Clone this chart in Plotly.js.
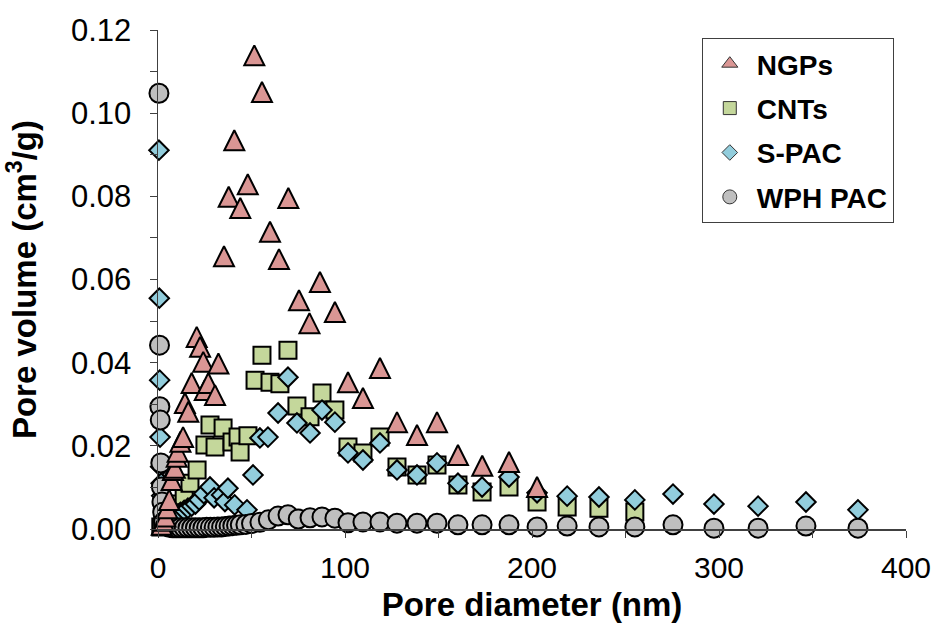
<!DOCTYPE html>
<html>
<head>
<meta charset="utf-8">
<script src="https://cdn.plot.ly/plotly-3.0.1.min.js"></script>
<style>html,body{margin:0;padding:0;background:#fff;}#chart{width:944px;height:630px;}</style>
</head>
<body>
<div id="chart"></div>
<script>
// Series names
var seriesNames = ["NGPs", "CNTs", "S-PAC", "WPH PAC"];

// NGPs (triangles)
var ngpX = [2, 3, 4, 5, 6, 7.3, 8, 9, 10, 10.5, 12, 13.4, 14.4, 16.2, 18, 20.7, 22.5, 24.2, 25, 26.9, 30.5, 32.3, 35.3, 37.8, 40.8, 44, 48, 51.5, 55.6, 59.9, 64.7, 69.7, 75.4, 81, 86.6, 94.6, 101.6, 109.6, 118.7, 127.8, 138.5, 149.2, 160.4, 173.4, 187.7, 202.7];
var ngpY = [0.001, 0.002, 0.003, 0.005, 0.007, 0.0118, 0.0142, 0.0147, 0.0174, 0.0186, 0.021, 0.0221, 0.0303, 0.0282, 0.0351, 0.0462, 0.0438, 0.0402, 0.0334, 0.0351, 0.0322, 0.0398, 0.0656, 0.0799, 0.0935, 0.0772, 0.0829, 0.1139, 0.1051, 0.0715, 0.0649, 0.0796, 0.055, 0.0495, 0.0594, 0.0522, 0.0353, 0.0315, 0.0387, 0.0257, 0.0226, 0.0257, 0.0178, 0.0152, 0.0161, 0.0101];

// CNTs (squares)
var cntX = [1.5, 2.5, 3.5, 4.5, 5.5, 7, 8.5, 10, 12, 14, 17.1, 20.9, 25.1, 27.8, 30.5, 34.8, 39.6, 42.8, 43.9, 48.1, 51.9, 55.6, 59.9, 65.2, 69.5, 74.3, 81.3, 87.7, 94.6, 101.6, 109.6, 118.7, 127.8, 138.5, 149.2, 160.4, 173.3, 187.7, 202.7, 218.8, 235.8, 255];
var cntY = [0.0005, 0.001, 0.0015, 0.002, 0.0025, 0.003, 0.004, 0.005, 0.006, 0.008, 0.011, 0.0142, 0.0202, 0.025, 0.0197, 0.0243, 0.0209, 0.0221, 0.0185, 0.0224, 0.0358, 0.0418, 0.0353, 0.0349, 0.043, 0.0296, 0.027, 0.0327, 0.0286, 0.0197, 0.0183, 0.0221, 0.0149, 0.013, 0.0154, 0.0106, 0.0089, 0.0101, 0.0065, 0.0053, 0.005, 0.0041];

// S-PAC (diamonds)
var spacX = [0.5, 0.7, 0.9, 1.1, 1.4, 1.7, 2.0, 2.5, 3, 4, 5, 6.5, 8, 10, 12, 14, 16, 18, 20, 22, 24.5, 27.8, 30, 34, 35.8, 37.4, 41, 47.6, 50.8, 54.5, 58.8, 64.2, 69.5, 74.3, 81.3, 87.7, 94.6, 101.6, 109.6, 118.7, 127.8, 138.5, 149.2, 160.4, 173.3, 187.7, 202.7, 218.8, 235.8, 255, 275.4, 297.3, 320.9, 346.5, 374.3];
var spacY = [0.0911, 0.0555, 0.0358, 0.0221, 0.015, 0.011, 0.008, 0.006, 0.005, 0.004, 0.0035, 0.003, 0.003, 0.0035, 0.004, 0.0045, 0.005, 0.0055, 0.006, 0.007, 0.0085, 0.0101, 0.0075, 0.0082, 0.0066, 0.0098, 0.0058, 0.0046, 0.013, 0.0219, 0.0221, 0.0279, 0.0365, 0.0255, 0.0231, 0.0286, 0.0257, 0.0183, 0.0166, 0.0207, 0.0142, 0.013, 0.0159, 0.011, 0.0101, 0.0125, 0.0087, 0.0079, 0.0077, 0.007, 0.0084, 0.006, 0.0055, 0.0065, 0.0046];

// WPH PAC (circles)
var wphX = [0.5, 0.8, 1.0, 1.2, 1.5, 1.8, 2.1, 2.5, 3, 4, 6, 8, 10, 12, 14, 16, 18, 20, 22, 24, 26, 28, 30, 32, 34, 36, 38, 40, 42, 44, 47, 50, 54.5, 59, 64.2, 69.5, 75, 81.3, 87.7, 94.6, 101.6, 109.6, 118.7, 127.8, 138.5, 149.2, 160.4, 173.3, 187.7, 202.7, 218.8, 235.8, 255, 275.4, 297.3, 320.9, 346.5, 374.3];
var wphY = [0.1048, 0.0442, 0.0294, 0.0262, 0.0159, 0.0101, 0.0065, 0.004, 0.0017, 0.0008, 0.0004, 0.0003, 0.0003, 0.0003, 0.0003, 0.0003, 0.0003, 0.0003, 0.0003, 0.0003, 0.0004, 0.0004, 0.0004, 0.0005, 0.0005, 0.0006, 0.0007, 0.0008, 0.0009, 0.001, 0.0011, 0.0013, 0.0016, 0.0022, 0.0031, 0.0034, 0.0024, 0.0027, 0.0029, 0.0026, 0.0015, 0.0017, 0.0017, 0.0014, 0.0014, 0.0014, 0.001, 0.001, 0.001, 0.0005, 0.0007, 0.0005, 0.0005, 0.001, 0.0002, 0.0002, 0.0007, 0.0002];

// axis tick labels
var xTickVals = [0, 100, 200, 300, 400];
var yTickVals = [0, 0.02, 0.04, 0.06, 0.08, 0.10, 0.12];

var colors = ["#DA9694", "#C4D79B", "#92CDDC", "#BFBFBF"];
var outline = {color: "#000000", width: 2};

// plot geometry (for centring the tip-anchored triangle symbol on its value)
var H = 630, M = {l: 158, r: 38, t: 30, b: 101};
var yMin = 0, yMax = 0.12;
var triSize = 20;
var plotH = H - M.t - M.b;
var triShift = (triSize / 2) / plotH * (yMax - yMin);

var traces = [
  {x: ngpX, y: ngpY, yaxis: "y2", type: "scatter", mode: "markers", cliponaxis: false, showlegend: false,
   marker: {symbol: "arrow-up", size: triSize, color: colors[0], line: outline}},
  {x: cntX, y: cntY, type: "scatter", mode: "markers", cliponaxis: false, showlegend: false,
   marker: {symbol: "square", size: 17, color: colors[1], line: outline}},
  {x: spacX, y: spacY, type: "scatter", mode: "markers", cliponaxis: false, showlegend: false,
   marker: {symbol: "diamond", size: 15, color: colors[2], line: outline}},
  {x: wphX, y: wphY, type: "scatter", mode: "markers", cliponaxis: false, showlegend: false,
   marker: {symbol: "circle", size: 19, color: colors[3], line: outline}}
];

// legend entries
var legSymbols = ["triangle-up", "square", "diamond", "circle"];
var legSizes = [14, 13, 12, 14];
for (var i = 0; i < 4; i++) {
  traces.push({x: [null], y: [null], type: "scatter", mode: "markers", name: seriesNames[i],
    legendgroup: "g" + i, showlegend: true,
    marker: {symbol: legSymbols[i], size: legSizes[i], color: colors[i], line: {color: "#333", width: 1}}});
}

var fontFam = "Liberation Sans, Arial, sans-serif";
var layout = {
  width: 944, height: H,
  margin: M,
  paper_bgcolor: "#fff", plot_bgcolor: "#fff",
  font: {family: fontFam, color: "#000"},
  showlegend: true,
  legend: {x: 0.727, y: 0.984, xanchor: "left", yanchor: "top",
    bordercolor: "#404040", borderwidth: 1, bgcolor: "#fff",
    font: {family: fontFam, size: 28, color: "#000", weight: "bold"},
    tracegroupgap: 5, itemwidth: 44, traceorder: "grouped"},
  xaxis: {range: [0, 400], tickvals: xTickVals, showgrid: false, zeroline: false,
    showline: true, linecolor: "#404040", linewidth: 1.5,
    ticks: "outside", ticklen: 7, tickcolor: "#404040", tickwidth: 1,
    minor: {dtick: 50, ticks: "outside", ticklen: 7, tickcolor: "#404040", showgrid: false},
    tickfont: {size: 30, color: "#000"}, ticklabelstandoff: 4,
    title: {text: "Pore diameter (nm)", font: {size: 33, weight: "bold", color: "#000"}, standoff: 10}},
  yaxis: {range: [yMin, yMax], tickvals: yTickVals, tickformat: ".2f", showgrid: false, zeroline: false,
    showline: true, linecolor: "#404040", linewidth: 1.5,
    ticks: "outside", ticklen: 7, tickcolor: "#404040", tickwidth: 1,
    minor: {dtick: 0.01, ticks: "outside", ticklen: 7, tickcolor: "#404040", showgrid: false},
    tickfont: {size: 31, color: "#000"}, ticklabelstandoff: 12,
    title: {text: "Pore volume (cm<sup>3</sup>/g)", font: {size: 33, weight: "bold", color: "#000"}, standoff: 24}},
  yaxis2: {overlaying: "y", range: [yMin - triShift, yMax - triShift], visible: false, showgrid: false, zeroline: false}
};

Plotly.newPlot("chart", traces, layout, {staticPlot: true, displayModeBar: false});
</script>
</body>
</html>
